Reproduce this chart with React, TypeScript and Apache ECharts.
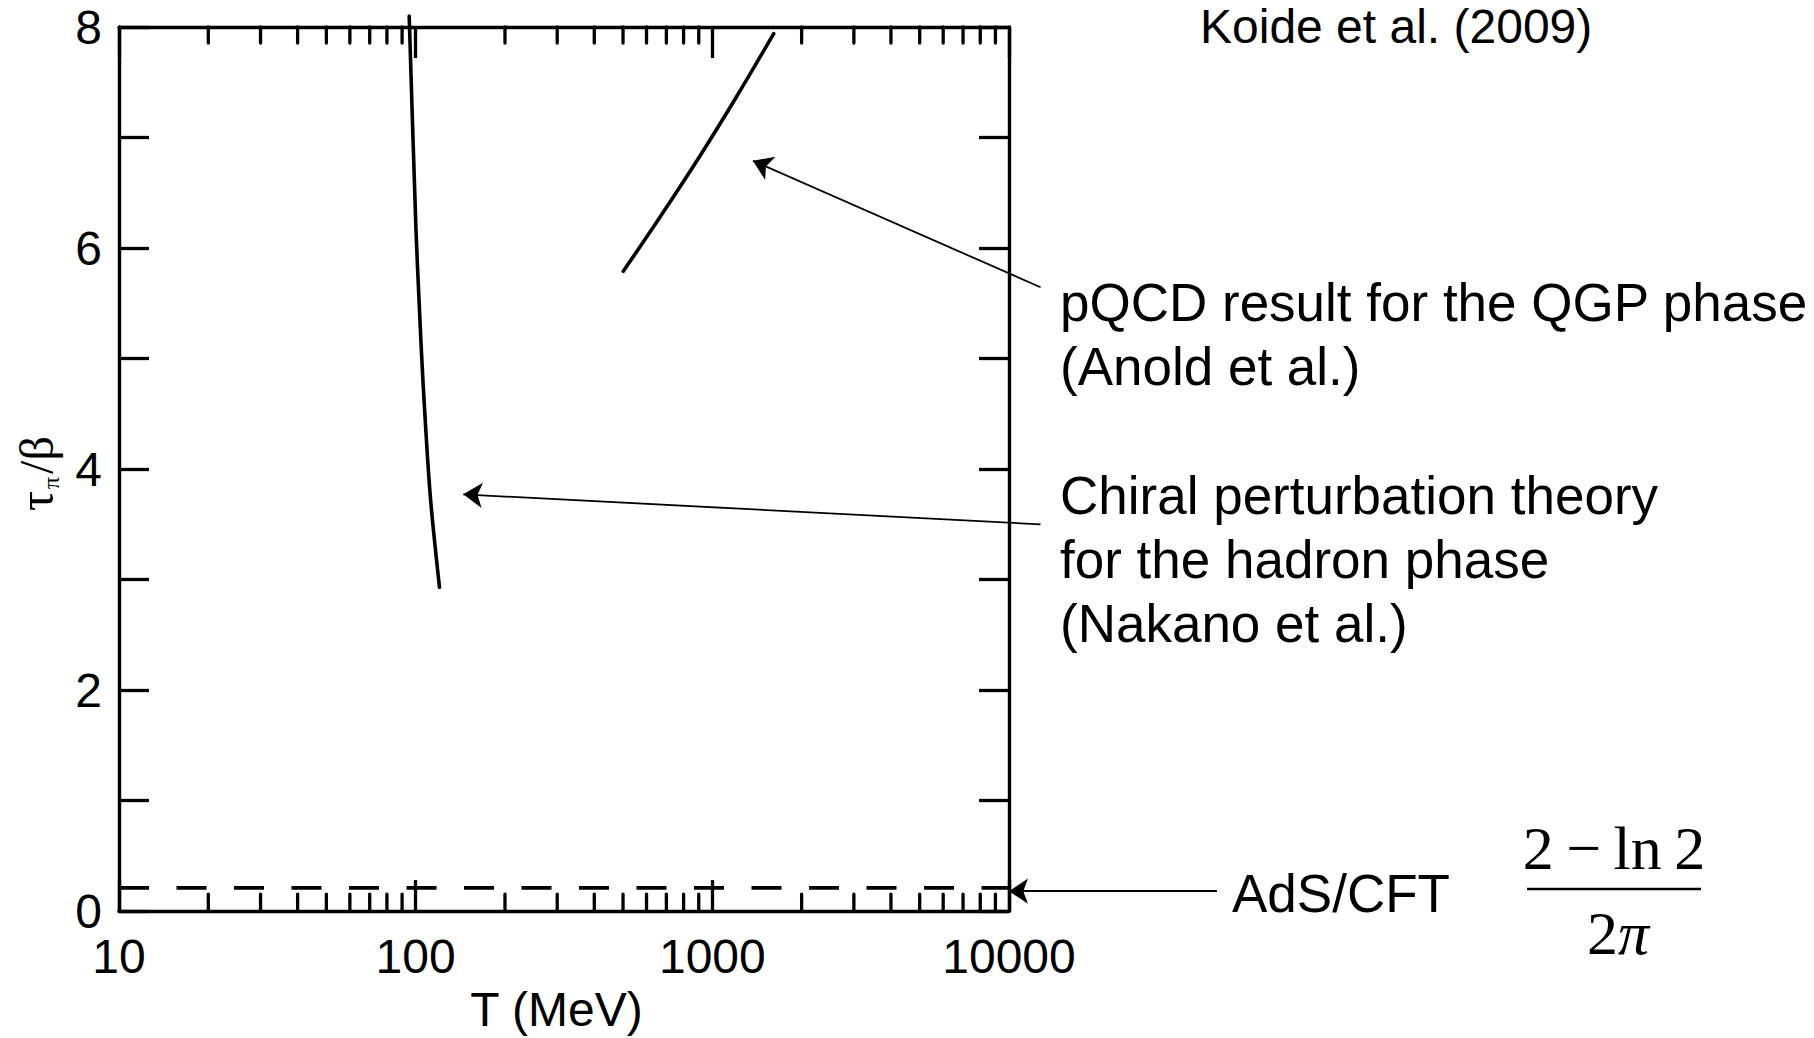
import React, { useEffect, useRef } from "react";
import * as echarts from "echarts";

// ---- data ----
const X_MIN = 10;
const X_MAX = 10000;
const Y_MIN = 0;
const Y_MAX = 8;
const Y_INTERVAL = 2;

// Chiral perturbation theory (hadron phase)
const T_CHIRAL = [95.1, 100.2, 102.8, 105.8, 111.9, 120.3];
const TAU_CHIRAL = [8.1, 6.18, 5.49, 4.8, 3.77, 2.93];

// pQCD result (QGP phase)
const T_PQCD = [501, 670, 897, 1201, 1610];
const TAU_PQCD = [5.79, 6.29, 6.81, 7.36, 7.94];

// AdS/CFT bound (2 - ln2)/(2 pi)
const T_ADS = [10, 10000];
const TAU_ADS = [0.21, 0.21];

// minor ticks of the log axis
const MINOR_T = [
  20, 30, 40, 50, 60, 70, 80, 90,
  200, 300, 400, 500, 600, 700, 800, 900,
  2000, 3000, 4000, 5000, 6000, 7000, 8000, 9000,
];

// annotation arrows: [tail, tip]
const ARROW_PQCD = [[12775, 5.645], [1370, 6.79]];
const ARROW_CHIRAL = [[12775, 3.5], [144.7, 3.771]];
const ARROW_ADS = [[50230, 0.18], [10000, 0.18]];

const LABEL_PQCD = ["pQCD result for the QGP phase", "(Anold et al.)"];
const LABEL_CHIRAL = ["Chiral perturbation theory", "for the hadron phase", "(Nakano et al.)"];
const LABEL_ADS = "AdS/CFT";
const LABEL_SOURCE = "Koide et al. (2009)";
const X_NAME = "T (MeV)";

const SANS = "'Liberation Sans', Arial, Helvetica, sans-serif";
const SERIF = "'Liberation Serif', 'Times New Roman', serif";

export default function App() {
  const ref = useRef<HTMLDivElement>(null);

  useEffect(() => {
    if (!ref.current) return;
    const chart = echarts.init(ref.current, undefined, { renderer: "svg" });

    const tickStyle = { color: "#000", width: 3.3 };
    const axisLine = { show: true, onZero: false, lineStyle: { color: "#000", width: 3.4 } };

    const annText = (text: string, x: number, y: number, size = 53) => ({
      type: "text",
      x,
      y,
      style: {
        text,
        fontFamily: SANS,
        fontSize: size,
        fill: "#000",
        align: "left",
        verticalAlign: "middle",
      },
    });

    const option: any = {
      animation: false,
      backgroundColor: "#fff",
      grid: { left: 119, top: 27, width: 890, height: 890, containLabel: false },
      xAxis: [
        {
          type: "log",
          logBase: 10,
          min: X_MIN,
          max: X_MAX,
          splitNumber: 3,
          position: "bottom",
          name: X_NAME,
          nameLocation: "middle",
          nameGap: 73,
          nameTextStyle: { fontFamily: SANS, fontSize: 48, color: "#000", padding: [0, 15, 0, 0] },
          axisLine,
          axisTick: { show: true, inside: true, length: 31, lineStyle: tickStyle },
          axisLabel: {
            show: true,
            margin: 21,
            fontFamily: SANS,
            fontSize: 48,
            color: "#000",
            formatter: (v: number) => String(Math.round(v)),
          },
          splitLine: { show: false },
        },
        {
          type: "log",
          logBase: 10,
          min: X_MIN,
          max: X_MAX,
          splitNumber: 3,
          position: "top",
          axisLine,
          axisTick: { show: true, inside: true, length: 31, lineStyle: tickStyle },
          axisLabel: { show: false },
          splitLine: { show: false },
        },
      ],
      yAxis: [
        {
          type: "value",
          min: Y_MIN,
          max: Y_MAX,
          interval: Y_INTERVAL,
          position: "left",
          axisLine,
          axisTick: { show: true, inside: true, length: 30, lineStyle: tickStyle },
          minorTick: { show: true, splitNumber: 2, length: 30, lineStyle: tickStyle },
          axisLabel: { show: true, margin: 17, fontFamily: SANS, fontSize: 48, color: "#000" },
          splitLine: { show: false },
        },
        {
          type: "value",
          min: Y_MIN,
          max: Y_MAX,
          interval: Y_INTERVAL,
          position: "right",
          axisLine,
          axisTick: { show: true, inside: true, length: 30, lineStyle: tickStyle },
          minorTick: { show: true, splitNumber: 2, length: 30, lineStyle: tickStyle },
          axisLabel: { show: false },
          splitLine: { show: false },
        },
      ],
      series: [
        {
          type: "custom",
          name: "minor ticks",
          xAxisIndex: 0,
          yAxisIndex: 0,
          clip: false,
          silent: true,
          data: MINOR_T.map((t) => [t, 0]),
          encode: { x: 0, y: 1 },
          renderItem: (_p: any, api: any) => {
            const v = api.value(0);
            const b = api.coord([v, Y_MIN]);
            const t = api.coord([v, Y_MAX]);
            const st = { stroke: "#000", lineWidth: 3.3, lineCap: "round" };
            return {
              type: "group",
              children: [
                { type: "line", shape: { x1: b[0], y1: b[1], x2: b[0], y2: b[1] - 17 }, style: st },
                { type: "line", shape: { x1: t[0], y1: t[1], x2: t[0], y2: t[1] + 16 }, style: st },
              ],
            };
          },
        },
        {
          type: "line",
          name: "Chiral",
          data: T_CHIRAL.map((t, i) => [t, TAU_CHIRAL[i]]),
          showSymbol: false,
          symbol: "none",
          smooth: 0.3,
          clip: false,
          lineStyle: { color: "#000", width: 3.6, cap: "round" },
        },
        {
          type: "line",
          name: "pQCD",
          data: T_PQCD.map((t, i) => [t, TAU_PQCD[i]]),
          showSymbol: false,
          symbol: "none",
          smooth: 0.4,
          clip: false,
          lineStyle: { color: "#000", width: 3.6, cap: "round" },
        },
        {
          type: "line",
          name: "AdS/CFT",
          data: T_ADS.map((t, i) => [t, TAU_ADS[i]]),
          showSymbol: false,
          symbol: "none",
          clip: false,
          lineStyle: { color: "#000", width: 3.6, type: [30, 27.5] },
        },
        {
          type: "lines",
          coordinateSystem: "cartesian2d",
          clip: false,
          symbol: ["none", "arrow"],
          symbolSize: [15, 19],
          lineStyle: { color: "#000", width: 1.8, opacity: 1 },
          itemStyle: { color: "#000" },
          data: [ARROW_PQCD, ARROW_CHIRAL, ARROW_ADS].map((c) => ({ coords: c })),
        },
      ],
      graphic: [
        annText(LABEL_SOURCE, 1200, 26, 48),
        annText(LABEL_PQCD[0], 1060, 302),
        annText(LABEL_PQCD[1], 1060, 366),
        annText(LABEL_CHIRAL[0], 1060, 495),
        annText(LABEL_CHIRAL[1], 1060, 559),
        annText(LABEL_CHIRAL[2], 1060, 623),
        annText(LABEL_ADS, 1232, 893),
        {
          type: "text",
          x: 1614,
          y: 848,
          style: {
            text: "2\u2009\u2212\u2009ln\u20092",
            fontFamily: SERIF,
            fontSize: 62,
            fill: "#000",
            align: "center",
            verticalAlign: "middle",
          },
        },
        {
          type: "line",
          shape: { x1: 1527, y1: 889, x2: 1701, y2: 889 },
          style: { stroke: "#000", lineWidth: 2.6 },
        },
        {
          type: "text",
          x: 1618,
          y: 933,
          style: {
            text: "2",
            fontFamily: SERIF,
            fontSize: 62,
            fill: "#000",
            align: "right",
            verticalAlign: "middle",
          },
        },
        {
          type: "text",
          x: 1618,
          y: 933,
          style: {
            text: "\u03c0",
            fontFamily: SERIF,
            fontStyle: "italic",
            fontSize: 62,
            fill: "#000",
            align: "left",
            verticalAlign: "middle",
          },
        },
        {
          type: "group",
          x: 36,
          y: 471,
          rotation: Math.PI / 2,
          children: [
            {
              type: "text",
              x: -30,
              y: 0,
              style: { text: "\u03c4", fontFamily: SERIF, fontSize: 50, fill: "#000", align: "center", verticalAlign: "middle" },
            },
            {
              type: "text",
              x: -12,
              y: 15,
              style: { text: "\u03c0", fontFamily: SERIF, fontSize: 24, fill: "#000", align: "center", verticalAlign: "middle" },
            },
            {
              type: "text",
              x: 16,
              y: 0,
              style: { text: "/\u03b2", fontFamily: SERIF, fontSize: 48, fill: "#000", align: "center", verticalAlign: "middle" },
            },
          ],
        },
      ],
    };

    chart.setOption(option);
    return () => chart.dispose();
  }, []);

  return (
    <div
      ref={ref}
      style={{ position: "fixed", left: 0, top: 0, width: 1814, height: 1038, background: "#fff" }}
    />
  );
}
